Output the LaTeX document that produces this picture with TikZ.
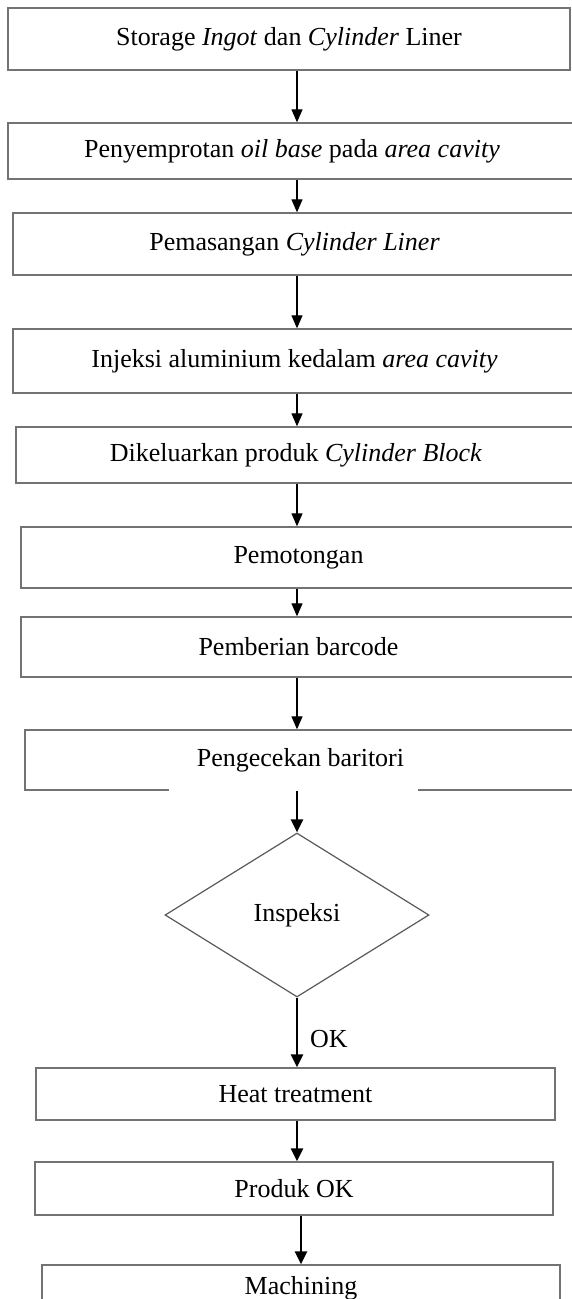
\documentclass[tikz,border=0pt]{standalone}
\usepackage{fontspec}
\setmainfont{Liberation Serif}
\usetikzlibrary{shapes.geometric,arrows.meta}
\tikzset{
  kotak/.style={draw=black!55,line width=1.4pt,inner sep=0pt},
  belah/.style={diamond,draw=black!65,line width=1.2pt,inner sep=0pt,minimum width=264pt,minimum height=164pt},
  panah/.style={line width=1.3pt,-{Triangle[length=13pt,width=11pt]}},
  panahtebal/.style={line width=2.4pt,-{Triangle[length=13pt,width=12pt]}}
}
\begin{document}
\begin{tikzpicture}[x=1pt,y=-1pt,font=\fontsize{26}{30}\selectfont]
\useasboundingbox (0,0) rectangle (571,1299);
\coordinate (sumbu) at (297,0);
\node[kotak,minimum width=562pt,minimum height=62pt] (b1) at (289,39) {Storage \textit{Ingot} dan \textit{Cylinder} Liner};
\node[kotak,minimum width=568pt,minimum height=56pt] (b2) at (292,151) {Penyemprotan \textit{oil base} pada \textit{area cavity}};
\node[kotak,minimum width=563pt,minimum height=62pt] (b3) at (294.5,244) {Pemasangan \textit{Cylinder Liner}};
\node[kotak,minimum width=563pt,minimum height=64pt] (b4) at (294.5,361) {Injeksi aluminium kedalam \textit{area cavity}};
\node[kotak,minimum width=560pt,minimum height=56pt] (b5) at (296,455) {Dikeluarkan produk \textit{Cylinder Block}};
\node[kotak,minimum width=555pt,minimum height=61pt] (b6) at (298.5,557.5) {Pemotongan};
\node[kotak,minimum width=555pt,minimum height=60pt] (b7) at (298.5,647) {Pemberian barcode};
\node[kotak,minimum width=551pt,minimum height=60pt] (b8) at (300.5,760) {Pengecekan baritori};
\draw[white,line width=3pt] ([xshift=-132pt]b8.south) -- ([xshift=117pt]b8.south);
\node[belah] (insp) at (297,915) {Inspeksi};
\node[kotak,minimum width=519pt,minimum height=52pt] (b9) at (295.5,1094) {Heat treatment};
\node[kotak,minimum width=518pt,minimum height=53pt] (b10) at (294,1188.5) {Produk OK};
\node[kotak,minimum width=518pt,minimum height=46pt] (b11) at (301,1288) {Machining};
\draw[panah] (b1.south -| sumbu) -- (b2.north -| sumbu);
\draw[panah] (b2.south -| sumbu) -- (b3.north -| sumbu);
\draw[panah] (b3.south -| sumbu) -- (b4.north -| sumbu);
\draw[panah] (b4.south -| sumbu) -- (b5.north -| sumbu);
\draw[panah] (b5.south -| sumbu) -- (b6.north -| sumbu);
\draw[panah] (b6.south -| sumbu) -- (b7.north -| sumbu);
\draw[panah] (b7.south -| sumbu) -- (b8.north -| sumbu);
\draw[panahtebal] (b8.south -| insp.north) -- (insp.north);
\draw[panahtebal] (insp.south) -- node[pos=0.6,right=12pt,inner sep=0pt] (ok) {OK} (insp.south |- b9.north);
\draw[panahtebal] (b9.south -| insp.south) -- (b10.north -| insp.south);
\draw[panahtebal] (b10.south -| b11.north) -- (b11.north);
\end{tikzpicture}
\end{document}
